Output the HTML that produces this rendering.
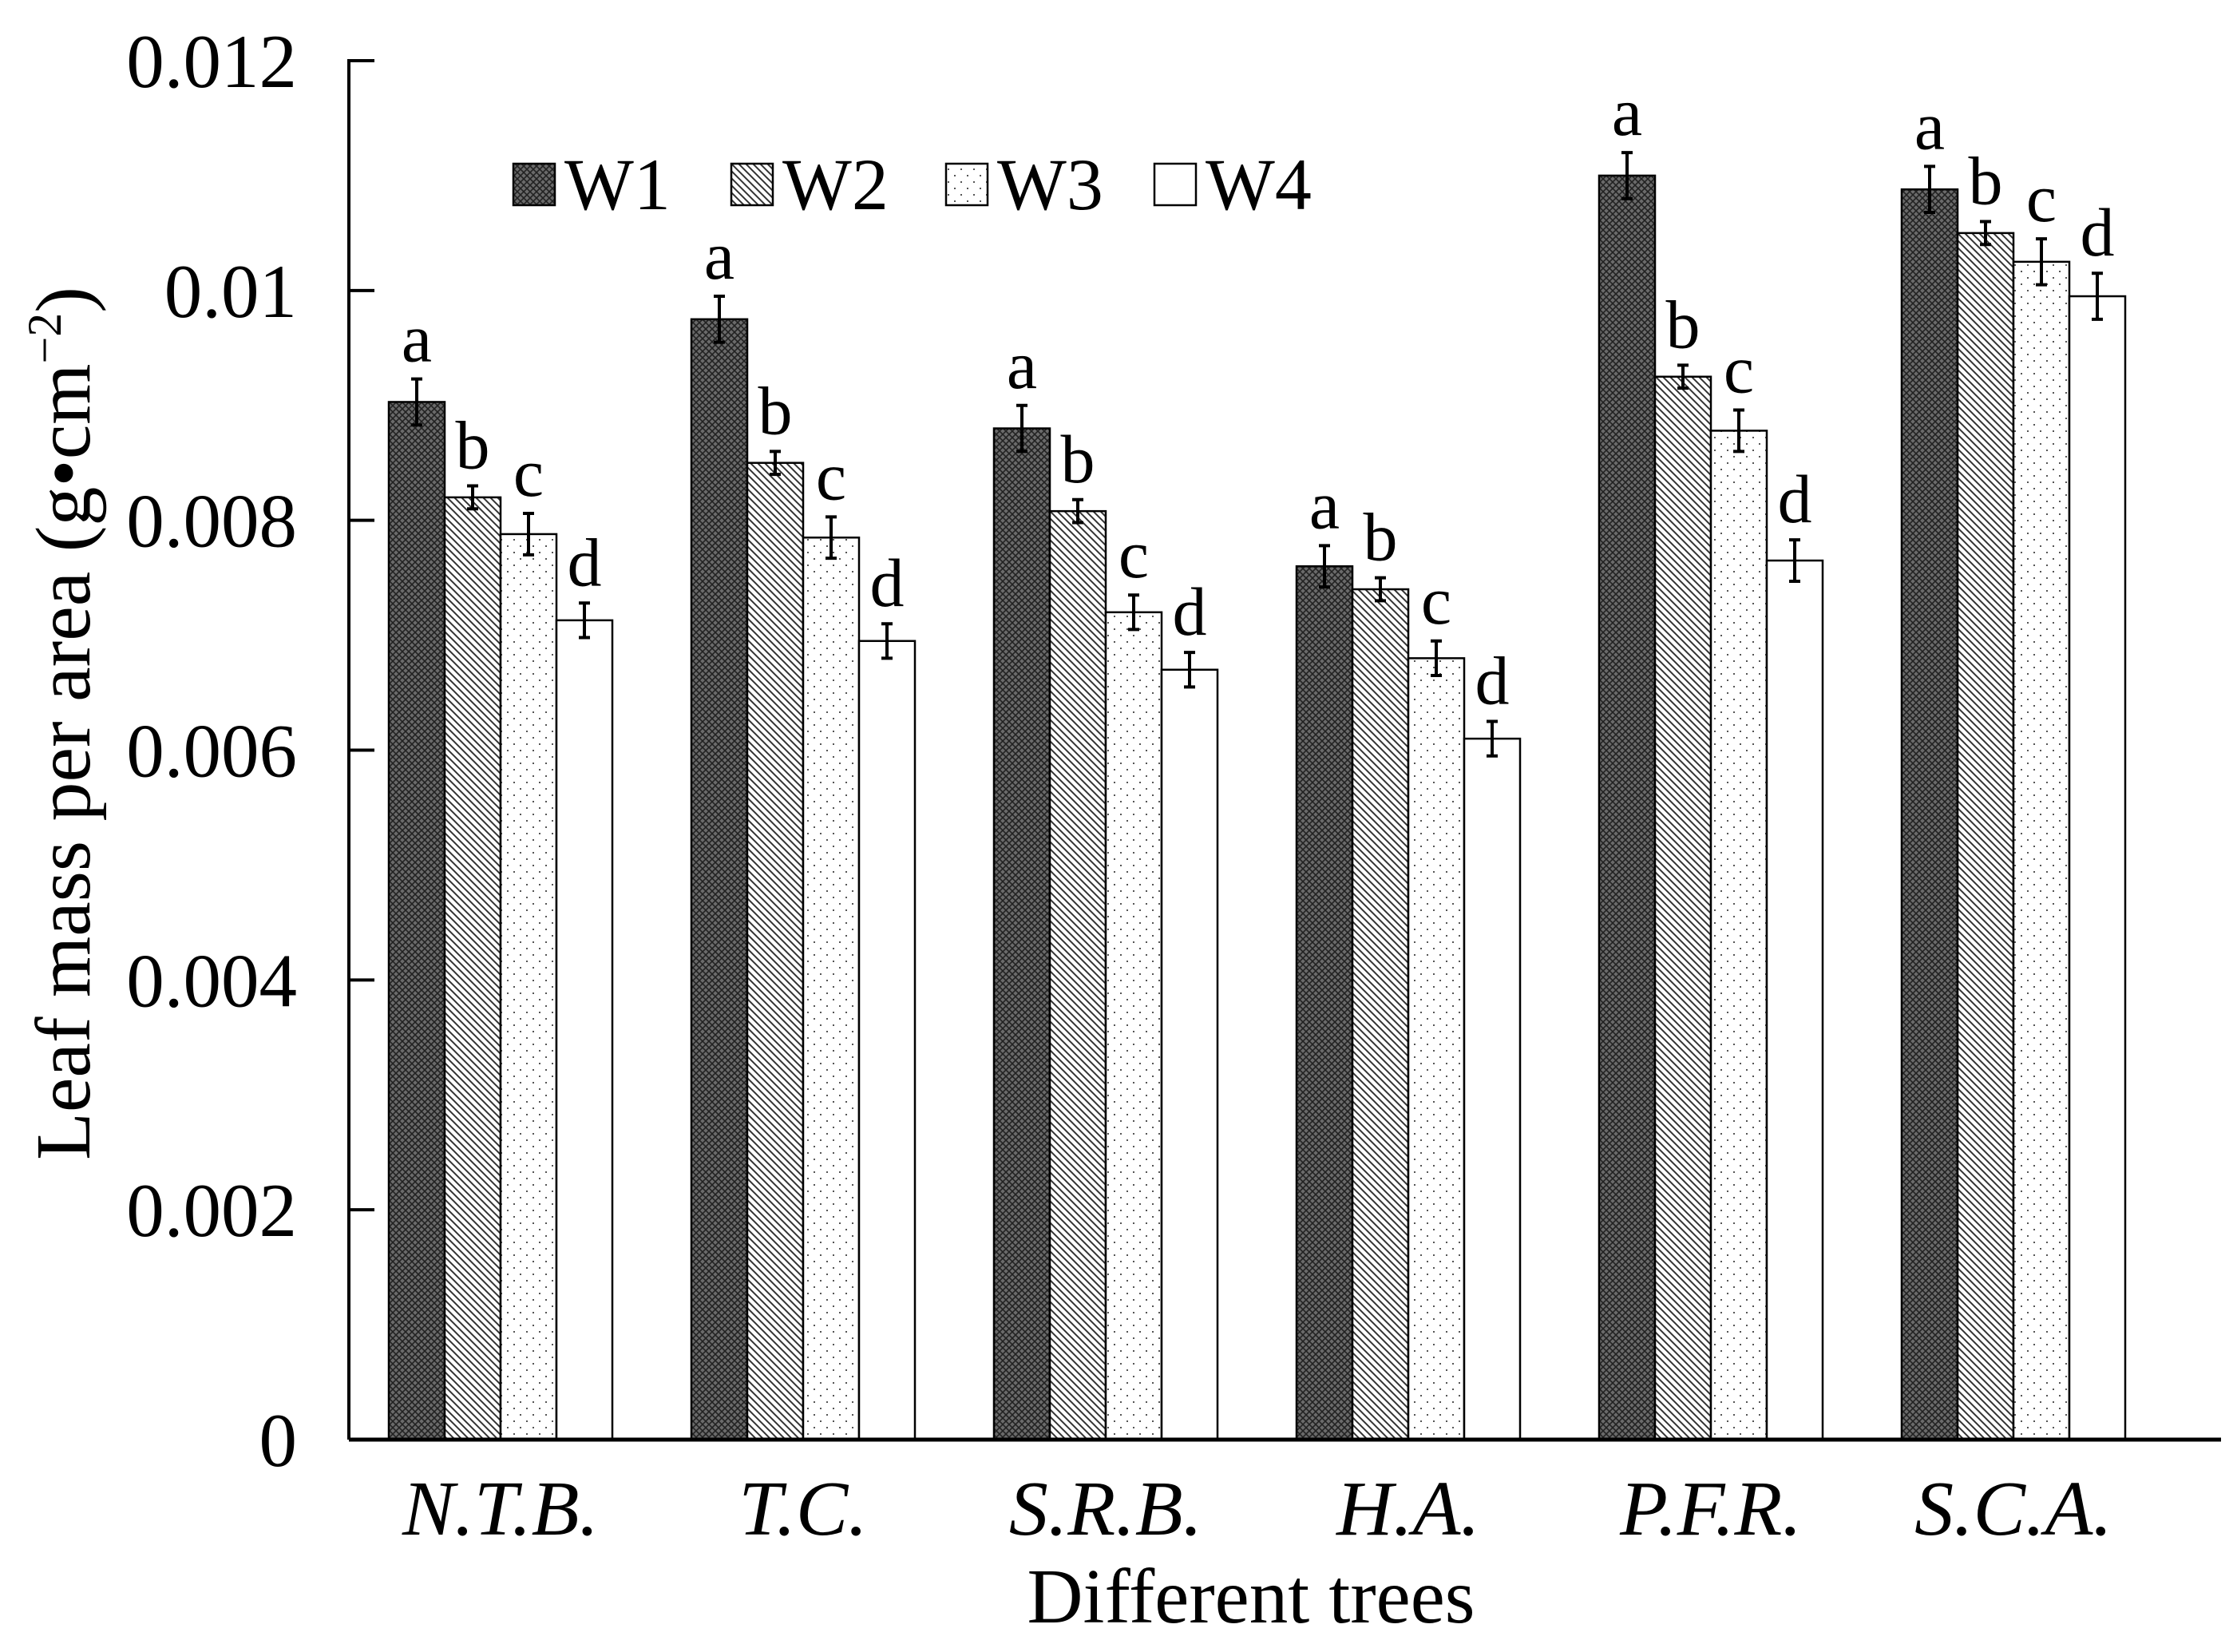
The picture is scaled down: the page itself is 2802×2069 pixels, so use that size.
<!DOCTYPE html>
<html><head><meta charset="utf-8"><style>
html,body{margin:0;padding:0;background:#fff}
svg{display:block}
text{font-family:"Liberation Serif",serif;fill:#000}
</style></head><body>
<svg id="chart" width="2802" height="2069" viewBox="0 0 2802 2069">
<defs>
<pattern id="p1" width="8" height="8" patternUnits="userSpaceOnUse"><rect width="8" height="8" fill="#6a6a6a"/><path d="M0,0L8,8M8,0L0,8" stroke="#222" stroke-width="1.6"/></pattern>
<pattern id="p2" width="9" height="9" patternUnits="userSpaceOnUse"><rect width="9" height="9" fill="#fff"/><path d="M-2,-2L11,11M-2,7L2,11M7,-2L11,2" stroke="#333" stroke-width="2"/></pattern>
<pattern id="p3" width="16" height="16" patternUnits="userSpaceOnUse"><rect width="16" height="16" fill="#fff"/><rect x="3" y="3" width="2" height="2" fill="#555"/><rect x="11" y="11" width="2" height="2" fill="#555"/></pattern>
<pattern id="p4" width="8" height="8" patternUnits="userSpaceOnUse"><rect width="8" height="8" fill="#fff"/></pattern>
</defs>
<g id="plot"></g>
</svg>
<script>
const categories=["N.T.B.","T.C.","S.R.B.","H.A.","P.F.R.","S.C.A."];
const seriesNames=["W1","W2","W3","W4"];
const w1=[0.00903,0.00975,0.0088,0.0076,0.0110,0.01088];
const w2=[0.0082,0.0085,0.00808,0.0074,0.00925,0.0105];
const w3=[0.00788,0.00785,0.0072,0.0068,0.00878,0.01025];
const w4=[0.00713,0.00695,0.0067,0.0061,0.00765,0.00995];
const e1=[0.0002,0.0002,0.0002,0.00018,0.0002,0.0002];
const e2=[0.0001,0.0001,0.0001,0.0001,0.0001,0.0001];
const e3=[0.00018,0.00018,0.00015,0.00015,0.00018,0.0002];
const e4=[0.00015,0.00015,0.00015,0.00015,0.00018,0.0002];
const letters=["a","b","c","d"];
const yTicks=[0,0.002,0.004,0.006,0.008,0.01,0.012];
const yTickLabels=["0","0.002","0.004","0.006","0.008","0.01","0.012"];

const NS="http://www.w3.org/2000/svg";
const g=document.getElementById('plot');
const X0=437,X1=2782,Y0=1803,Ytop=76;
const y=v=>Y0-(v/0.012)*(Y0-Ytop);
const groupStart=i=>487+i*379;
const barW=70;
function mk(tag,attrs,parent){const e=document.createElementNS(NS,tag);for(const k in attrs)e.setAttribute(k,attrs[k]);(parent||g).appendChild(e);return e;}
const vals=[w1,w2,w3,w4],errs=[e1,e2,e3,e4],fills=["url(#p1)","url(#p2)","url(#p3)","url(#p4)"];

categories.forEach((c,i)=>{
  for(let s=0;s<4;s++){
    const v=vals[s][i],er=errs[s][i],x=groupStart(i)+s*barW;
    const r=mk('rect',{x:x,y:y(v),width:barW,height:Y0-y(v),fill:fills[s],stroke:'#000','stroke-width':2.5});
    
    
    const cx=x+barW/2;
    const eb=mk('path',{d:`M${cx},${y(v+er)}V${y(v-er)}M${cx-7},${y(v+er)}H${cx+7}M${cx-7},${y(v-er)}H${cx+7}`,stroke:'#000','stroke-width':4,fill:'none'});
    
    
    const t=mk('text',{x:cx,y:y(v+er)-22,'text-anchor':'middle','font-size':86});
    t.textContent=letters[s];
    
    
  }
  const cl=mk('text',{x:groupStart(i)+2*barW,y:1922,'text-anchor':'middle','font-size':98,'font-style':'italic'});
  cl.textContent=c;
  
  
});

yTicks.forEach((t,i)=>{
  const l=mk('line',{x1:X0,x2:X0+32,y1:y(t),y2:y(t),stroke:'#000','stroke-width':4});
  
  
  const tx=mk('text',{x:372,y:y(t)+33,'text-anchor':'end','font-size':95});
  tx.textContent=yTickLabels[i];
  
  
});
const ya=mk('line',{x1:X0,x2:X0,y1:Ytop-2,y2:Y0,stroke:'#000','stroke-width':4});


const xa=mk('line',{x1:X0,x2:X1,y1:Y0,y2:Y0,stroke:'#000','stroke-width':5});



const yt=mk('text',{x:0,y:0,'text-anchor':'middle','font-size':98,transform:'translate(112,906) rotate(-90)'});
yt.innerHTML='Leaf mass per area (g•cm<tspan font-size="60" dy="-36">−2</tspan><tspan dy="36">)</tspan>';


const xt=mk('text',{x:1567,y:2032,'text-anchor':'middle','font-size':97});
xt.textContent='Different trees';



const legX=[643,916,1185,1446];
seriesNames.forEach((n,s)=>{
  const b=mk('rect',{x:legX[s],y:205,width:52,height:52,fill:fills[s],stroke:'#000','stroke-width':2.5});
  
  
  const t=mk('text',{x:legX[s]+92-28,y:262,'font-size':92});
  t.textContent=n;
  
  
});
</script>
</body></html>
